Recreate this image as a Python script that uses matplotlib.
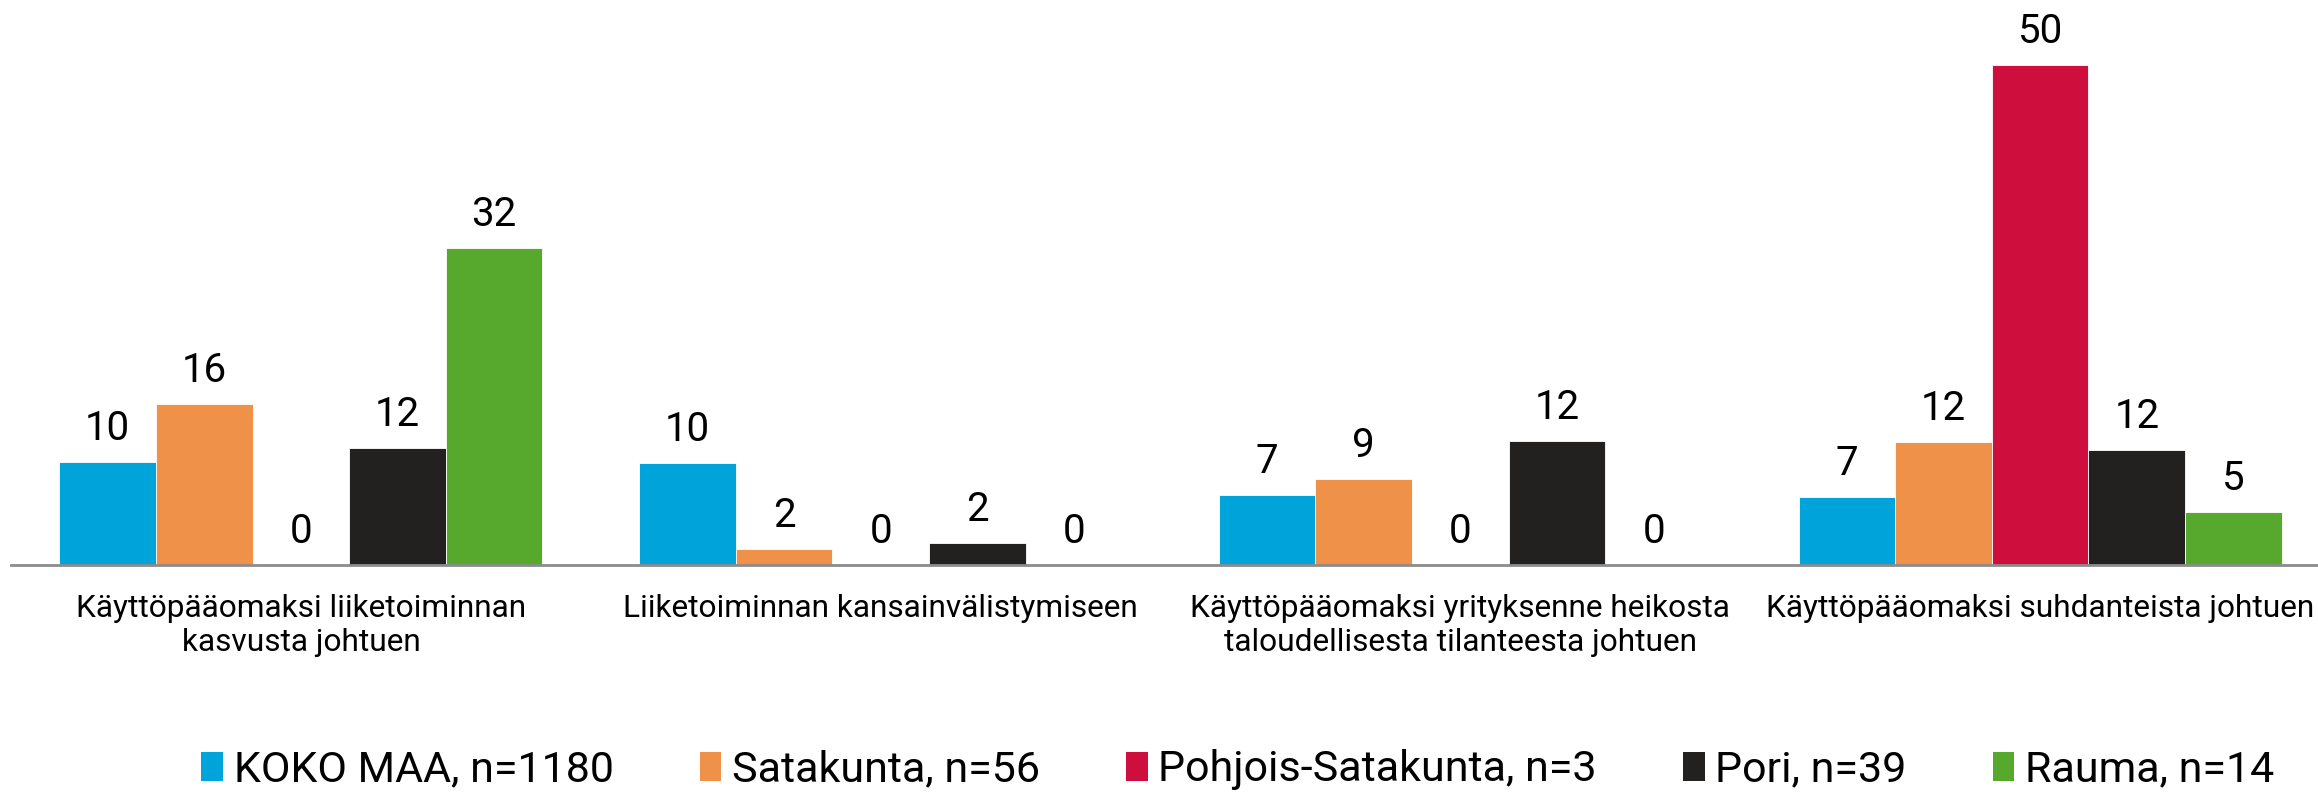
import matplotlib
matplotlib.use("Agg")
import matplotlib.pyplot as plt
import numpy as np

categories = ["Käyttöpääomaksi liiketoiminnan\nkasvusta johtuen",
              "Liiketoiminnan kansainvälistymiseen",
              "Käyttöpääomaksi yrityksenne heikosta\ntaloudellisesta tilanteesta johtuen",
              "Käyttöpääomaksi suhdanteista johtuen"]
series_names = ["KOKO MAA, n=1180", "Satakunta, n=56", "Pohjois-Satakunta, n=3", "Pori, n=39", "Rauma, n=14"]
koko_maa = [10.3, 10.2, 7.0, 6.8]
satakunta = [16.1, 1.6, 8.6, 12.3]
pohjois_satakunta = [0, 0, 0, 50]
pori = [11.7, 2.2, 12.4, 11.5]
rauma = [31.7, 0, 0, 5.3]
series = [koko_maa, satakunta, pohjois_satakunta, pori, rauma]
colors = ["#00A3DA", "#F0914A", "#CE0F3E", "#22211F", "#57A92E"]

FONT = dict(family="Roboto")

fig = plt.figure(figsize=(23.18, 7.93), dpi=100)
ax = fig.add_axes([11/2318, 1 - 565/793, (2330 - 11)/2318, 560/793])

x = np.arange(len(categories))
w = 1/6
for i, (vals, c, name) in enumerate(zip(series, colors, series_names)):
    pos = x + (i - 2) * w
    ax.bar(pos, vals, width=w, color=c, label=name, edgecolor="white", linewidth=0.6)
    for p, v in zip(pos, vals):
        ax.text(p, v + 1.4, f"{round(v):d}", ha="center", va="bottom", fontsize=29, **FONT)

ax.set_xlim(-0.5, len(categories) - 0.5)
ax.set_ylim(0, 56)
for s in ["top", "right", "left"]:
    ax.spines[s].set_visible(False)
ax.spines["bottom"].set_color("#8C8C8C")
ax.spines["bottom"].set_linewidth(2)
ax.set_yticks([])
ax.set_xticks(x)
ax.set_xticklabels(categories, fontsize=22.8, linespacing=1.2, **FONT)
ax.tick_params(axis="x", length=0, pad=21)

leg = fig.legend(loc="center", bbox_to_anchor=(0.534, 1 - 770/793), ncol=5, frameon=False,
                 prop=dict(size=31, **FONT), handlelength=0.5, handleheight=0.65,
                 handletextpad=0.25, columnspacing=2.0)
for h in leg.legend_handles:
    h.set_edgecolor("none")

fig.savefig("out.png", dpi=100)
